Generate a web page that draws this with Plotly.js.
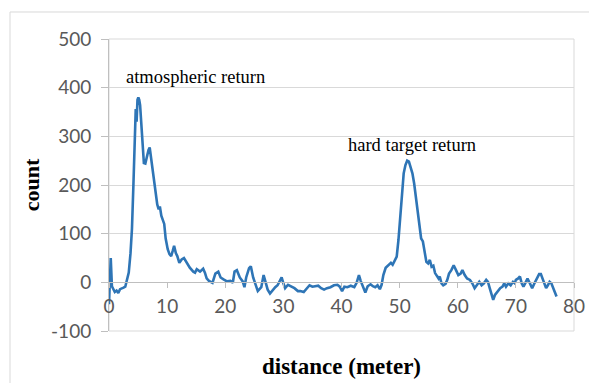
<!DOCTYPE html>
<html>
<head>
<meta charset="utf-8">
<script src="https://cdn.plot.ly/plotly-3.0.1.min.js"></script>
<style>html,body{margin:0;padding:0;background:#fff;}#chart{width:589px;height:383px;}</style>
</head>
<body>
<div id="chart"></div>
<script>
// distance (meter)
const distance = [0.0,0.3,0.5,0.7,1.0,1.3,1.6,1.9,2.2,2.5,2.8,3.1,3.4,3.7,3.95,4.2,4.45,4.6,4.75,4.9,5.05,5.2,5.35,5.5,5.7,5.8,6.0,6.25,6.5,6.8,7.0,7.2,7.45,7.75,8.0,8.3,8.55,8.75,9.0,9.25,9.5,9.75,10.1,10.4,10.7,10.95,11.2,11.5,11.75,12.1,12.5,12.9,13.4,13.9,14.5,14.8,15.1,15.66,16.2,16.5,16.8,17.2,17.8,18.3,18.8,19.2,19.7,20.3,20.9,21.3,21.6,22.0,22.5,23.0,23.3,23.6,24.1,24.4,24.8,25.3,25.6,26.2,26.6,26.9,27.3,27.7,28.2,28.6,29.0,29.4,29.7,30.0,30.3,30.8,31.4,31.9,32.5,32.9,33.5,34.1,34.5,35.0,35.5,36.0,36.5,37.0,37.5,38.1,38.7,39.3,39.7,40.1,40.5,41.0,41.6,42.2,42.6,43.0,43.3,43.7,44.1,44.5,45.0,45.4,45.8,46.2,46.6,46.9,47.2,47.6,48.1,48.5,48.8,49.2,49.5,49.8,50.1,50.4,50.7,51.0,51.3,51.6,51.9,52.2,52.5,52.8,53.1,53.4,53.7,54.0,54.3,54.6,54.9,55.2,55.5,55.8,56.1,56.4,56.7,56.9,57.2,57.5,57.9,58.2,58.5,58.9,59.3,59.7,60.1,60.5,60.8,61.2,61.6,62.1,62.5,62.9,63.3,63.7,64.1,64.5,64.9,65.2,65.5,65.8,66.1,66.4,66.8,67.3,67.7,68.0,68.3,68.7,69.1,69.5,69.8,70.0,70.4,70.7,71.0,71.3,71.6,72.0,72.4,72.8,73.2,73.7,74.0,74.3,74.6,74.9,75.2,75.5,75.8,76.1,76.4,76.7,77.0];
// count
const count = [-45,50,-8,-12,-20,-17,-22,-14,-13,-11,-9,3,20,60,110,200,300,356,330,375,380,375,364,330,290,285,245,244,258,272,277,258,232,205,181,160,150,156,137,126,120,90,68,58,54,64,75,60,54,40,47,50,40,30,22,20,27,22,28,20,8,3,-1,18,22,10,6,2,3,-1,22,25,10,2,-10,10,29,33,10,-5,-18,-10,15,2,-15,-23,-15,-10,-6,3,10,-2,-12,-5,-8,-12,-18,-18,-20,-12,-6,-9,-8,-7,-12,-15,-12,-10,-6,-5,-9,-18,-9,-10,-7,-10,-1,15,3,-8,-21,-8,-4,-8,-10,-6,-14,-5,15,30,36,40,36,46,53,87,135,190,224,241,250,248,238,224,203,176,142,114,90,84,60,42,39,46,32,34,19,14,8,12,-2,-6,-3,5,18,25,35,25,15,18,25,15,8,5,-2,-12,-6,1,-6,-2,5,1,-12,-26,-36,-26,-19,-12,-9,-2,-9,-2,-6,1,-2,5,8,12,-2,-9,-2,8,-2,-12,-2,8,17,17,8,-5,-12,-6,1,-2,-12,-22,-29];
const xTicks = [0,10,20,30,40,50,60,70,80];
const yTicks = [-100,0,100,200,300,400,500];
const labels = ["atmospheric return","hard target return"];
const labelX = [14.8, 52.1];
const labelY = [421, 282];

const trace = {
  x: distance, y: count, type: 'scatter', mode: 'lines',
  line: {color: '#2E75B6', width: 2.6, shape: 'linear'},
  hoverinfo: 'skip', showlegend: false
};

const layout = {
  width: 589, height: 383,
  margin: {l: 109, r: 15, t: 39, b: 52, pad: 0},
  paper_bgcolor: '#ffffff', plot_bgcolor: '#ffffff',
  showlegend: false,
  xaxis: {
    range: [0, 80], tickvals: xTicks, ticktext: xTicks.map(String),
    anchor: 'free', position: 1/6,
    showgrid: false, zeroline: false,
    showline: true, linecolor: '#bfbfbf', linewidth: 1,
    ticks: 'outside', ticklen: 5, tickcolor: '#bfbfbf',
    tickfont: {family: 'Lato, sans-serif', size: 19, color: '#595959'},
    ticklabelstandoff: 2,
    title: {text: 'distance (meter)', font: {family: '"Liberation Serif", "Times New Roman", serif', size: 23, color: '#000', weight: 'bold'}, standoff: 41},
    automargin: false, fixedrange: true
  },
  yaxis: {
    range: [-100, 500], tickvals: yTicks, ticktext: yTicks.map(String),
    showgrid: true, gridcolor: '#d9d9d9', gridwidth: 1,
    zeroline: false,
    showline: true, linecolor: '#bfbfbf', linewidth: 1,
    ticks: 'outside', ticklen: 7, tickcolor: '#bfbfbf',
    tickfont: {family: 'Lato, sans-serif', size: 19, color: '#595959'},
    ticklabelstandoff: 6,
    title: {text: 'count', font: {family: '"Liberation Serif", "Times New Roman", serif', size: 22, color: '#000', weight: 'bold'}, standoff: 5},
    automargin: false, fixedrange: true
  },
  shapes: [
    {type: 'rect', xref: 'paper', yref: 'paper', x0: 0, x1: 1, y0: 0, y1: 1, line: {color: '#d9d9d9', width: 1}, layer: 'below'},
    {type: 'rect', xref: 'paper', yref: 'paper', x0: -0.2129, x1: 1.06, y0: -0.25, y1: 1.0925, line: {color: '#d9d9d9', width: 1}, layer: 'below'}
  ],
  annotations: labels.map((t, i) => ({
    text: t, x: labelX[i], y: labelY[i], xref: 'x', yref: 'y',
    showarrow: false, xanchor: 'center', yanchor: 'middle',
    font: {family: '"Liberation Serif", "Times New Roman", serif', size: 18.5, color: '#000'}
  }))
};

Plotly.newPlot('chart', [trace], layout, {displayModeBar: false, staticPlot: true});
</script>
</body>
</html>
